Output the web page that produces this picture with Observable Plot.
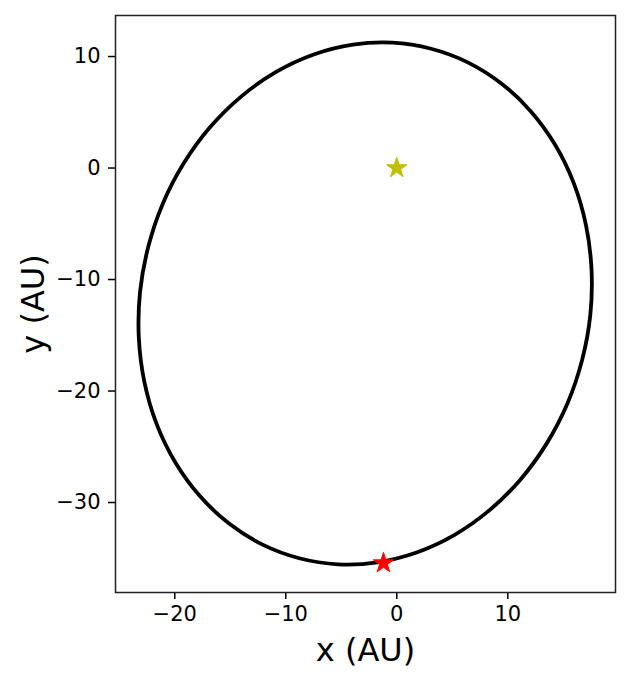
<!DOCTYPE html>
<html>
<head>
<meta charset="utf-8">
<script src="https://cdn.jsdelivr.net/npm/d3@7"></script>
<script src="https://cdn.jsdelivr.net/npm/@observablehq/plot@0.6"></script>
<style>
  html, body { margin: 0; padding: 0; background: #fff; }
</style>
</head>
<body>
<div id="chart"></div>
<script>
// Orbit points (AU)
const orbitX = [3.09, -0.40, -3.96, -7.48, -10.87, -14.00, -16.81, -19.18, -21.07, -22.39,
  -23.13, -23.24, -22.74, -21.64, -19.96, -17.76, -15.11, -12.09, -8.79, -5.30,
  -1.75, 1.78, 5.17, 8.30, 11.11, 13.48, 15.37, 16.69, 17.43, 17.54,
  17.04, 15.94, 14.26, 12.06, 9.41, 6.39];
const orbitY = [10.70, 11.24, 11.06, 10.18, 8.62, 6.43, 3.67, 0.44, -3.18, -7.07,
  -11.12, -15.20, -19.18, -22.95, -26.39, -29.40, -31.89, -33.78, -35.00, -35.54,
  -35.36, -34.48, -32.92, -30.73, -27.97, -24.74, -21.12, -17.23, -13.18, -9.10,
  -5.12, -1.35, 2.09, 5.10, 7.59, 9.48];
// Central star and current body position
const starNames = ["Sun", "Body"];
const starX = [0, -1.2];
const starY = [0, -35.44];
const starColors = ["#bfbf00", "#ff0000"];
// Axis ticks
const xTicks = [-20, -10, 0, 10];
const yTicks = [-30, -20, -10, 0, 10];
const xLabel = "x (AU)";
const yLabel = "y (AU)";

const orbit = orbitX.map((x, i) => ({x, y: orbitY[i]}));
const stars = starNames.map((name, i) => ({name, x: starX[i], y: starY[i], color: starColors[i]}));

const chart = Plot.plot({
  width: 629,
  height: 683,
  marginTop: 15,
  marginRight: 14,
  marginBottom: 91,
  marginLeft: 115,
  style: {fontFamily: "DejaVu Sans", fontSize: "20px", color: "black", background: "white"},
  x: {domain: [-25.34, 19.7]},
  y: {domain: [-38.07, 13.68]},
  marks: [
    Plot.axisX({ticks: xTicks, tickSize: 7, tickPadding: 7, label: null, strokeWidth: 1.5, fontSize: 21}),
    Plot.axisY({ticks: yTicks, tickSize: 7, tickPadding: 8, label: null, strokeWidth: 1.5, fontSize: 21}),
    Plot.line(orbit, {x: "x", y: "y", curve: "catmull-rom-closed", stroke: "black", strokeWidth: 3.8}),
    Plot.dot(stars, {x: "x", y: "y", symbol: "star", r: 6.4, fill: "color", stroke: "color", strokeWidth: 1}),
    Plot.frame({stroke: "#222", strokeWidth: 1.5}),
    Plot.text([xLabel], {frameAnchor: "bottom", dy: 58, lineAnchor: "middle", textAnchor: "middle", fontSize: 32, fill: "black"}),
    Plot.text([yLabel], {frameAnchor: "left", dx: -82, rotate: -90, lineAnchor: "middle", textAnchor: "middle", fontSize: 32, fill: "black"})
  ]
});
document.getElementById("chart").appendChild(chart);
</script>
</body>
</html>
